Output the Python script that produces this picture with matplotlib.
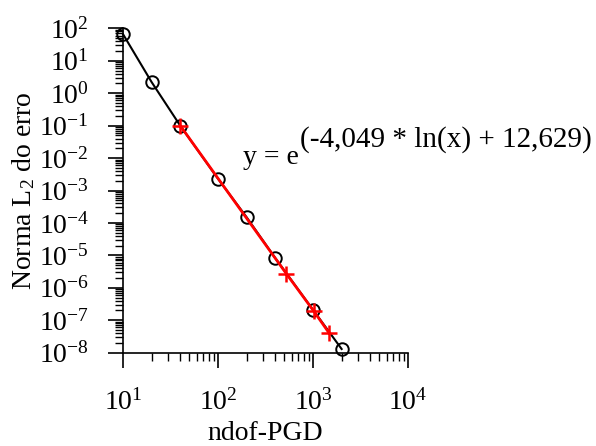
import matplotlib
matplotlib.use("Agg")
import matplotlib.pyplot as plt
import numpy as np
from matplotlib.ticker import LogLocator, NullFormatter

# data
ndof_pgd = [10, 20, 40, 100, 200, 400, 1000, 2000]
erro_l2 = [66, 2.2, 0.1, 2.3e-3, 1.5e-4, 8.3e-6, 2.1e-7, 1.3e-8]

ndof_fit = [40, 525, 1020, 1480]
erro_fit = [0.1, 2.7e-6, 1.9e-7, 4.0e-8]

eq_main = "y = e"
eq_sup = "(-4,049 * ln(x) + 12,629)"

plt.rcParams['font.family'] = ['Liberation Serif', 'DejaVu Serif']
plt.rcParams['mathtext.fontset'] = 'custom'
plt.rcParams['mathtext.rm'] = 'Liberation Serif'
plt.rcParams['mathtext.it'] = 'Liberation Serif:italic'
plt.rcParams['axes.unicode_minus'] = False
plt.rcParams['font.size'] = 20

fig = plt.figure(figsize=(5.96, 4.46), dpi=100)
ax = fig.add_axes([0.2064, 0.2092, 0.4782, 0.7273])

ax.plot(ndof_pgd, erro_l2, color='black', lw=1.5, marker='o', ms=9,
        mfc='none', mec='black', mew=1.4, clip_on=False, zorder=3)
ax.plot(ndof_fit, erro_fit, color='red', lw=2, marker='+', ms=12,
        mew=1.8, clip_on=False, zorder=4)

ax.set_xscale('log')
ax.set_yscale('log')
ax.set_xlim(10, 1e4)
ax.set_ylim(1e-8, 1e2)

ax.xaxis.set_major_locator(LogLocator(base=10, numticks=20))
ax.yaxis.set_major_locator(LogLocator(base=10, numticks=20))
ax.xaxis.set_minor_locator(LogLocator(base=10, subs=np.arange(2, 10), numticks=100))
ax.yaxis.set_minor_locator(LogLocator(base=10, subs=np.arange(2, 10), numticks=100))
ax.xaxis.set_minor_formatter(NullFormatter())
ax.yaxis.set_minor_formatter(NullFormatter())

for s in ['top', 'right']:
    ax.spines[s].set_visible(False)
for s in ['left', 'bottom']:
    ax.spines[s].set_linewidth(1.2)

ax.tick_params(axis='x', which='major', direction='out', length=10.5, width=1.2, pad=16)
ax.tick_params(axis='x', which='minor', direction='out', length=5.5, width=1.0)
ax.tick_params(axis='y', which='major', direction='out', length=10.5, width=1.2, pad=14)
ax.tick_params(axis='y', which='minor', direction='out', length=5.5, width=1.0)

ax.set_xlabel('ndof-PGD', fontsize=20)
ax.set_ylabel(r'Norma L$_2$ do erro', fontsize=20)
ax.xaxis.set_label_coords(0.5, -0.21)
ax.yaxis.set_label_coords(-0.30, 0.5)

t = fig.text(243 / 596, 1 - 164 / 446, eq_main, fontsize=20, ha='left', va='baseline')
ax.annotate(eq_sup, xy=(1, 0), xycoords=t, xytext=(1, 12), textcoords='offset points',
            fontsize=21, ha='left', va='bottom', annotation_clip=False)

plt.savefig('out.png', dpi=100)
